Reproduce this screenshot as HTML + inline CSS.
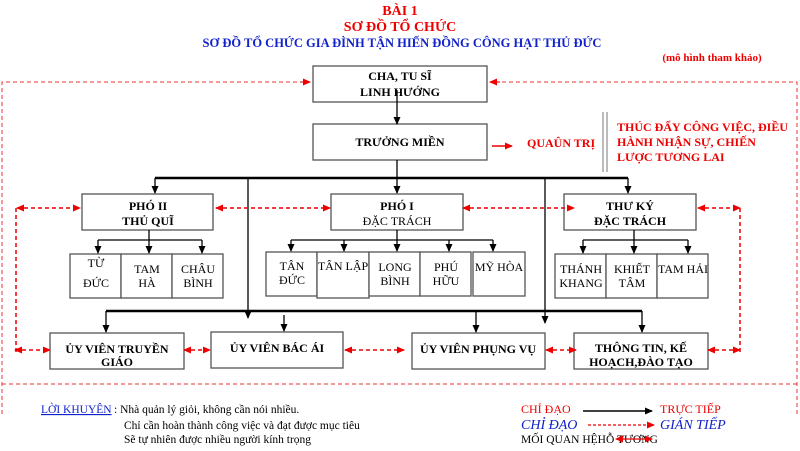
<!DOCTYPE html>
<html><head><meta charset="utf-8"><style>
html,body{margin:0;padding:0;background:#fff}
svg{display:block}
text{font-family:"Liberation Serif",serif}
.b{font-weight:bold;font-size:12px}
.n{font-size:12px}
</style></head><body>
<svg width="800" height="451" viewBox="0 0 800 451" xmlns="http://www.w3.org/2000/svg">
<defs>
<marker id="a" markerWidth="8" markerHeight="8" refX="7" refY="4" orient="auto" markerUnits="userSpaceOnUse"><path d="M0,0.5 L8,4 L0,7.5z" fill="#000"/></marker>
<marker id="r" markerWidth="8" markerHeight="8" refX="7" refY="4" orient="auto-start-reverse" markerUnits="userSpaceOnUse"><path d="M0,0.5 L8,4 L0,7.5z" fill="#e00"/></marker>
</defs>
<g text-anchor="middle" class="b">
<text x="400" y="15" fill="#e00" font-size="14">BÀI 1</text>
<text x="400" y="31" fill="#e00" font-size="14">SƠ ĐỒ TỔ CHỨC</text>
<text x="402" y="47" fill="#12c" font-size="12.5">SƠ ĐỒ TỔ CHỨC GIA ĐÌNH TẬN HIẾN ĐỒNG CÔNG HẠT THỦ ĐỨC</text>
<text x="712" y="61" fill="#e00" font-size="11">(mô hình tham khảo)</text>
</g>
<!-- outer dashed -->
<g stroke="#e33" stroke-width="1" stroke-dasharray="4,3" fill="none">
<path d="M2,414 V82 H308"/><path d="M797,414 V82 H492"/>
<path d="M2,384 H797"/>
</g>
<g stroke="#e33" stroke-width="1.3" stroke-dasharray="4,3" fill="none">
<path d="M300,82 H310" marker-end="url(#r)" stroke-dasharray="none"/>
<path d="M500,82 H490" marker-end="url(#r)" stroke-dasharray="none"/>
</g>
<!-- boxes -->
<g fill="#fff" stroke="#555" stroke-width="1.3">
<rect x="313" y="66" width="174" height="36"/>
<rect x="313" y="124" width="174" height="36"/>
<rect x="82" y="194" width="131" height="36"/>
<rect x="331" y="194" width="132" height="36"/>
<rect x="564" y="194" width="132" height="36"/>
<rect x="70" y="254" width="51" height="44"/><rect x="121" y="254" width="51" height="44"/><rect x="172" y="254" width="51" height="44"/>
<rect x="266" y="252" width="51" height="44"/><rect x="317" y="252" width="52" height="46"/><rect x="369" y="252" width="51" height="44"/><rect x="420" y="252" width="51" height="44"/><rect x="473" y="252" width="52" height="44"/>
<rect x="555" y="254" width="51" height="44"/><rect x="606" y="254" width="51" height="44"/><rect x="657" y="254" width="51" height="44"/>
<rect x="50" y="333" width="134" height="36"/>
<rect x="211" y="332" width="132" height="36"/>
<rect x="412" y="333" width="133" height="36"/>
<rect x="574" y="333" width="134" height="36"/>
</g>
<!-- black connectors -->
<g stroke="#000" stroke-width="1.3" fill="none" marker-end="url(#a)">
<path d="M397,90 V124"/>
<path d="M397,160 V193"/>
<path d="M155,178 V193"/><path d="M628,178 V193"/>
<path d="M149,230 V253"/><path d="M98,240 V253"/><path d="M202,240 V253"/>
<path d="M397,230 V251"/><path d="M291,240 V251"/><path d="M344,240 V251"/><path d="M449,240 V251"/><path d="M493,240 V251"/>
<path d="M634,230 V253"/><path d="M583,240 V253"/><path d="M688,240 V253"/>
<path d="M106,311 V332"/><path d="M248,178 V318"/><path d="M284,315 V331"/><path d="M476,311 V332"/><path d="M642,311 V332"/><path d="M545,178 V323"/>
</g>
<g stroke="#000" stroke-width="1.3" fill="none">
<path d="M98,240 H202"/><path d="M291,240 H493"/><path d="M583,240 H688"/>
</g>
<path d="M155,178 H628" stroke="#000" stroke-width="2.5"/>
<path d="M106,311 H642" stroke="#000" stroke-width="2.5"/>
<!-- red dashed arrows -->
<g stroke="#e00" stroke-width="1.5" stroke-dasharray="4,3" fill="none" marker-start="url(#r)" marker-end="url(#r)">
<path d="M17,208 H80"/><path d="M216,208 H330"/><path d="M463,208 H574"/><path d="M698,208 H740"/>
<path d="M15,350 H50"/><path d="M184,350 H210"/><path d="M345,350 H404"/><path d="M546,350 H576"/><path d="M708,350 H740"/>
</g>
<g stroke="#e00" stroke-width="1.5" stroke-dasharray="4,3" fill="none">
<path d="M16,208 V352"/><path d="M740,208 V352"/>
</g>
<path d="M492,146 H512" stroke="#e00" stroke-width="1.5" marker-end="url(#r)"/>
<path d="M603,112 V172 M607,112 V172" stroke="#777" stroke-width="1"/>
<!-- labels -->
<g class="b" text-anchor="middle" fill="#000">
<text x="400" y="80">CHA, TU SĨ</text><text x="400" y="96">LINH HƯỚNG</text>
<text x="400" y="146">TRƯỞNG MIỀN</text>
<text x="148" y="210">PHÓ II</text><text x="148" y="225">THỦ QUĨ</text>
<text x="397" y="210">PHÓ I</text><text x="397" y="225" font-weight="normal">ĐẶC TRÁCH</text>
<text x="630" y="210">THƯ KÝ</text><text x="630" y="225">ĐẶC TRÁCH</text>
<text x="117" y="353">ỦY VIÊN TRUYỀN</text><text x="117" y="366">GIÁO</text>
<text x="277" y="352">ỦY VIÊN BÁC ÁI</text>
<text x="478" y="353">ỦY VIÊN PHỤNG VỤ</text>
<text x="641" y="352">THÔNG TIN, KẾ</text><text x="641" y="366">HOẠCH,ĐÀO TẠO</text>
</g>
<g class="n" text-anchor="middle" fill="#000">
<text x="96" y="267">TỪ</text><text x="96" y="287">ĐỨC</text>
<text x="147" y="273">TAM</text><text x="147" y="287">HÀ</text>
<text x="198" y="273">CHÂU</text><text x="198" y="287">BÌNH</text>
<text x="292" y="270">TÂN</text><text x="292" y="284">ĐỨC</text>
<text x="343" y="270">TÂN LẬP</text>
<text x="395" y="271">LONG</text><text x="395" y="285">BÌNH</text>
<text x="446" y="271">PHÚ</text><text x="446" y="285">HỮU</text>
<text x="499" y="271">MỸ HÒA</text>
<text x="581" y="273">THÁNH</text><text x="581" y="287">KHANG</text>
<text x="632" y="273">KHIẾT</text><text x="632" y="287">TÂM</text>
<text x="683" y="273">TAM HẢI</text>
</g>
<g class="b" fill="#e00">
<text x="527" y="147">QUAÛN TRỊ</text>
<text x="617" y="131">THÚC ĐẨY CÔNG VIỆC, ĐIỀU</text>
<text x="617" y="146">HÀNH NHẬN SỰ, CHIẾN</text>
<text x="617" y="161">LƯỢC TƯƠNG LAI</text>
</g>
<!-- legend -->
<g font-size="11.5">
<text x="41" y="413" fill="#12c" text-decoration="underline">LỜI KHUYÊN</text>
<text x="114" y="413" fill="#000">: Nhà quản lý giỏi, không cần nói nhiều.</text>
<text x="124" y="429" fill="#000">Chỉ cần hoàn thành công việc và đạt được mục tiêu</text>
<text x="124" y="443" fill="#000">Sẽ tự nhiên được nhiều người kính trọng</text>
<text x="521" y="413" fill="#e00" font-size="12">CHỈ ĐẠO</text>
<text x="660" y="413" fill="#e00" font-size="12">TRỰC TIẾP</text>
<text x="521" y="429" fill="#12c" font-size="14" font-style="italic">CHỈ ĐẠO</text>
<text x="660" y="429" fill="#12c" font-size="14" font-style="italic">GIÁN TIẾP</text>
<text x="521" y="443" fill="#000">MỐI QUAN HỆHỖ TƯƠNG</text>
</g>
<path d="M583,411 H652" stroke="#000" stroke-width="1.5" marker-end="url(#a)"/>
<path d="M588,425 H654" stroke="#e00" stroke-width="1.2" stroke-dasharray="3,2" marker-end="url(#r)"/>
<path d="M616,439 H652" stroke="#e00" stroke-width="1.2" marker-start="url(#r)" marker-end="url(#r)"/>
</svg>
</body></html>
